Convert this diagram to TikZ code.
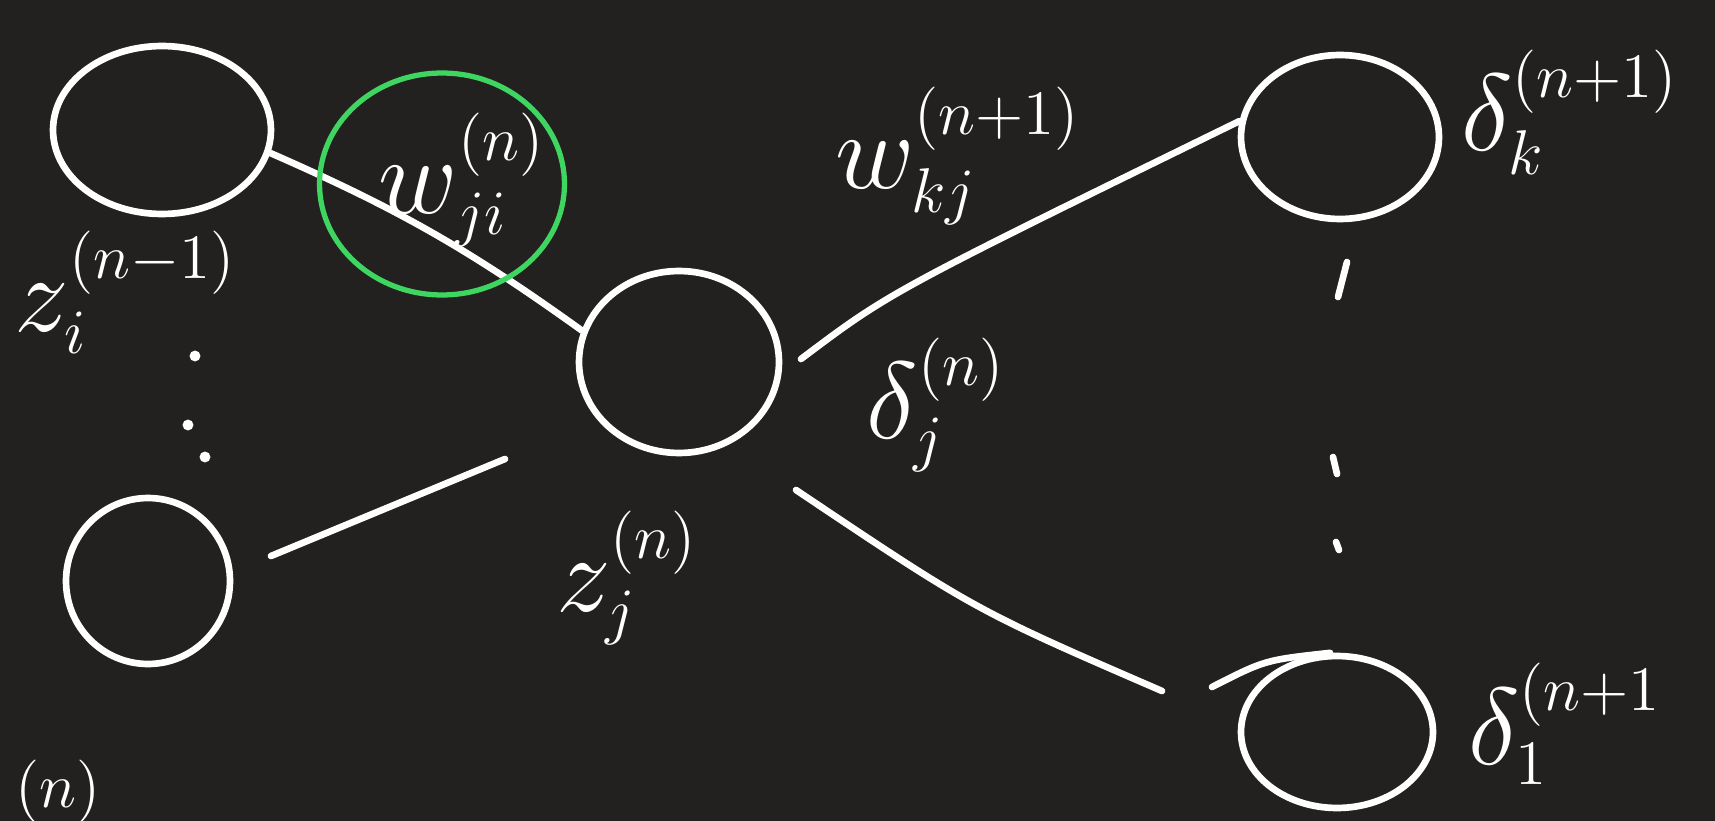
\documentclass[tikz,border=0pt]{standalone}
\usepackage{amsmath}
\usepackage{tikz}
\usetikzlibrary{shapes.geometric}
\DeclareMathSizes{24.88}{24.88}{14.4}{10}

\definecolor{board}{RGB}{34,33,32}
\definecolor{marker}{RGB}{62,214,96}

\begin{document}
\begin{tikzpicture}[
  x=0.02cm,y=-0.02cm,
  line width=3.8pt,
  line cap=round,
  neuron/.style={ellipse,draw=white,inner sep=0pt},
  wire/.style={draw=white},
  ink/.style={text=white,inner sep=0pt,font=\Huge,scale=2.5,transform shape},
  dot/.style={circle,fill=white,inner sep=2.2pt}
]
  % Dark board, fixed to the size of the page.
  \fill[board] (0,0) rectangle (1715,821);
  \useasboundingbox (0,0) rectangle (1715,821);

  % Neurons: layer n-1, layer n, layer n+1.
  \node[neuron,minimum width=4.36cm,minimum height=3.36cm] (zi) at (162,130) {};
  \node[neuron,minimum width=3.28cm,minimum height=3.32cm] (zb) at (148,581) {};
  \node[neuron,minimum width=4.0cm,minimum height=3.64cm] (zj) at (679,362) {};
  \node[neuron,minimum width=3.96cm,minimum height=3.28cm] (dk) at (1340,137) {};
  \node[neuron,minimum width=3.84cm,minimum height=3.04cm] (d1) at (1337,732) {};

  % Free ends of the loose strokes.
  \coordinate (bout) at (271,556);
  \coordinate (bin) at (505,459);
  \coordinate (jup) at (801,359);
  \coordinate (jdown) at (796,490);
  \coordinate (lowin) at (1162,691);
  \coordinate (lowtail) at (1212,687);

  % Weights.
  \draw[wire] (zi.-12) to[bend left=6] (zj.162);
  \draw[wire] (bout) -- (bin);
  \draw[wire] (jup) .. controls (890,292) .. (dk.171);
  \draw[wire] (jdown) .. controls (975,610) .. (lowin);
  \draw[wire] (lowtail) .. controls (1265,660) .. (d1.95);

  % Marked weight.
  \node[ellipse,draw=marker,line width=3pt,minimum width=4.9cm,
    minimum height=4.44cm] (wmark) at (442,184) {};
  \node[ink] (wji) at (462,180) {$w_{ji}^{(n)}$};

  % Labels.
  \node[ink] (zil) at (126,292) {$z_i^{(n-1)}$};
  \node[ink] (zjl) at (627,578) {$z_j^{(n)}$};
  \node[ink] (djl) at (936,405) {$\delta_j^{(n)}$};
  \node[ink] (wkj) at (958,156) {$w_{kj}^{(n+1)}$};
  \node[ink] (dkl) at (1570,112) {$\delta_k^{(n+1)}$};
  \node[ink] (d1l) at (1565,724) {$\delta_1^{(n+1}$};
  \node[ink] (nl) at (58,792) {$\scriptstyle(n)$};

  % Vertical dots between the nodes of a layer.
  \node[dot] (l1) at (195,356) {};
  \node[dot] (l2) at (188,425) {};
  \node[dot] (l3) at (205,457) {};
  \draw[white] (1347,262) -- (1338,297);
  \draw[white] (1333,457) -- (1337,474);
  \draw[white] (1336,542) -- (1339,550);
\end{tikzpicture}
\end{document}
